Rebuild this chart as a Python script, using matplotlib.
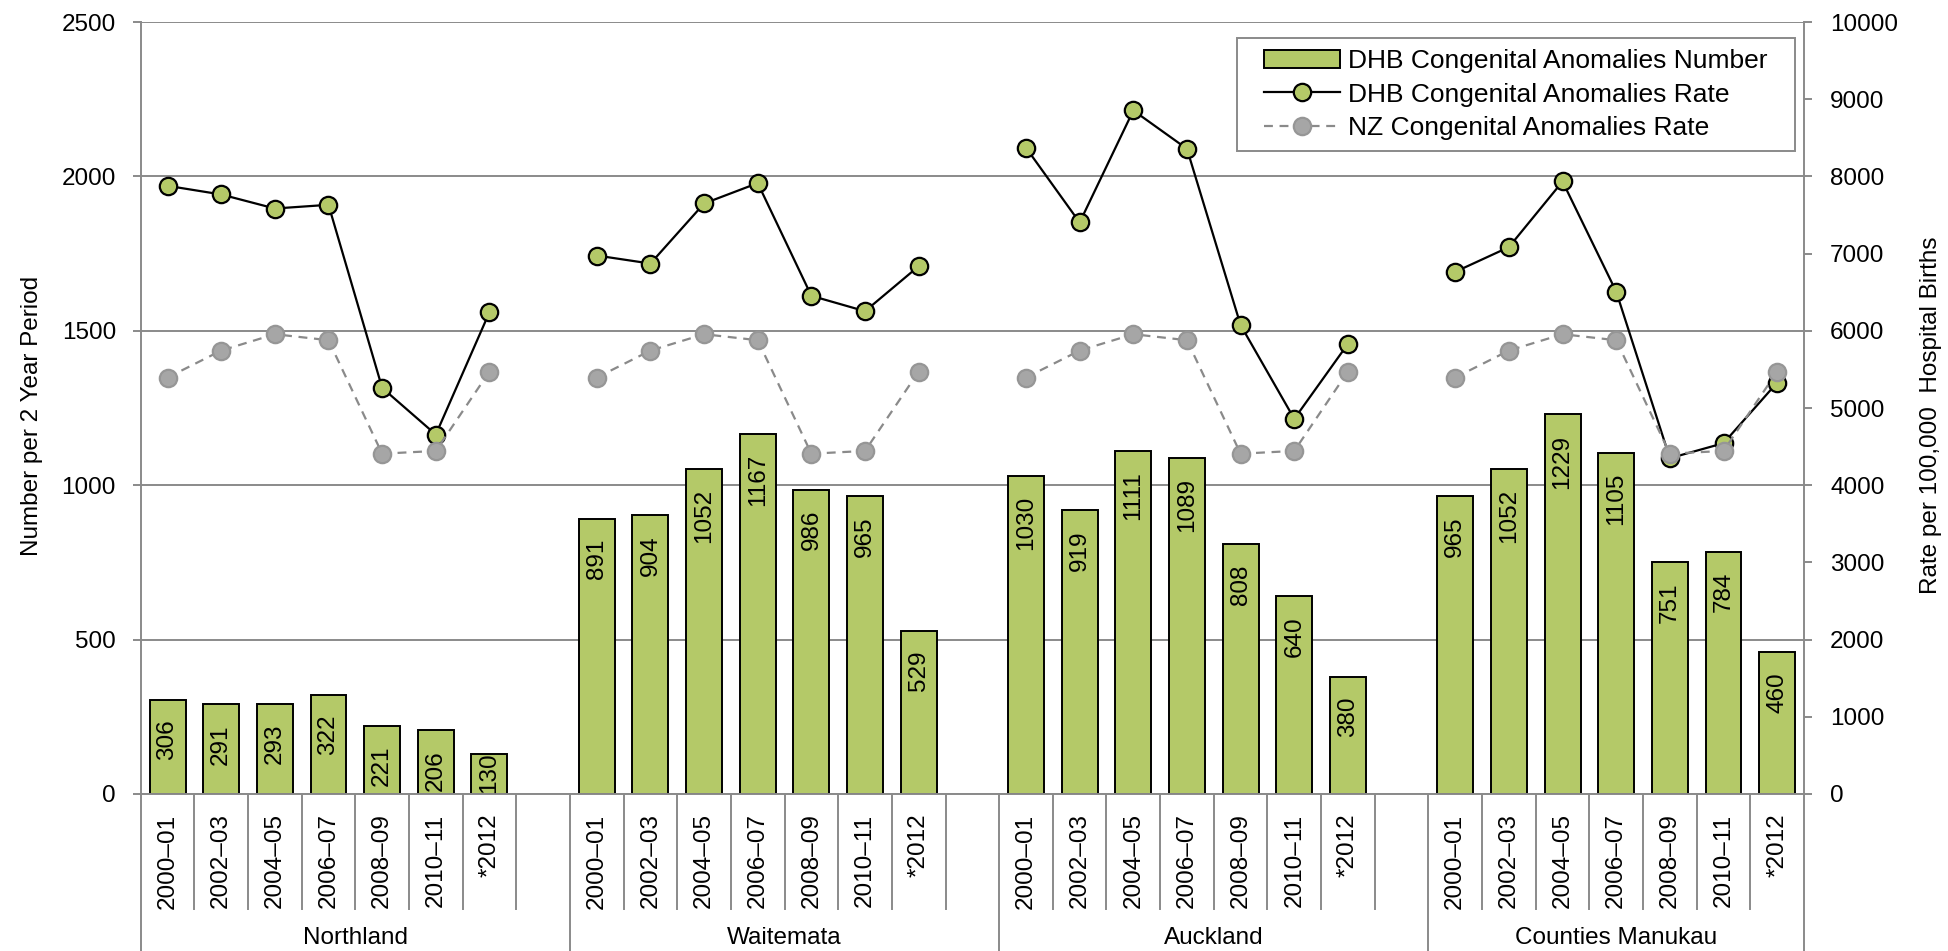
import numpy as np
import matplotlib
matplotlib.use('Agg')
import matplotlib.pyplot as plt
from matplotlib.transforms import blended_transform_factory
from matplotlib.patches import Patch
from matplotlib.lines import Line2D
from matplotlib.path import Path

plt.rcParams['font.family'] = ['Liberation Sans', 'DejaVu Sans']

groups = ['Northland', 'Waitemata', 'Auckland', 'Counties Manukau']
periods = ['2000–01', '2002–03', '2004–05', '2006–07', '2008–09', '2010–11', '*2012']

numbers_northland = [306, 291, 293, 322, 221, 206, 130]
numbers_waitemata = [891, 904, 1052, 1167, 986, 965, 529]
numbers_auckland = [1030, 919, 1111, 1089, 808, 640, 380]
numbers_counties = [965, 1052, 1229, 1105, 751, 784, 460]

rate_northland = [7878, 7766, 7584, 7632, 5261, 4656, 6241]
rate_waitemata = [6975, 6871, 7649, 7913, 6453, 6254, 6837]
rate_auckland = [8371, 7403, 8854, 8357, 6073, 4859, 5831]
rate_counties = [6764, 7084, 7934, 6508, 4350, 4544, 5329]

nz_rate = [5394, 5744, 5956, 5878, 4408, 4444, 5472]

numbers_all = [numbers_northland, numbers_waitemata, numbers_auckland, numbers_counties]
rates_all = [rate_northland, rate_waitemata, rate_auckland, rate_counties]

GREEN = '#B4C968'
GRAY = '#8A8A8A'
FS = 17.5

# Build category sequence with an empty slot between groups
cat_labels, num, dhb, nz, group_of = [], [], [], [], []
for gi, g in enumerate(groups):
    cat_labels += periods
    num += numbers_all[gi]
    dhb += rates_all[gi]
    nz += nz_rate
    group_of += [gi] * len(periods)
    if gi < len(groups) - 1:
        cat_labels.append('')
        num.append(np.nan)
        dhb.append(np.nan)
        nz.append(np.nan)
        group_of.append(gi)
num = np.array(num, dtype=float)
dhb = np.array(dhb, dtype=float)
nz = np.array(nz, dtype=float)
x = np.arange(len(cat_labels))
n = len(cat_labels)

fig = plt.figure(figsize=(19.48, 9.51), dpi=100)
ax = fig.add_axes([140.7 / 1948, 1 - 794 / 951, (1804 - 140.7) / 1948, (794 - 22) / 951])

valid = ~np.isnan(num)
ax.bar(x[valid], num[valid], width=0.67, color=GREEN, edgecolor='black', linewidth=1.4, zorder=2)
for xi, v in zip(x[valid], num[valid]):
    ax.text(xi, max(v - 65, 135), f'{int(v)}', rotation=90, ha='center', va='top',
            fontsize=FS, zorder=4)

ax.set_xlim(-0.5, n - 0.5)
ax.set_ylim(0, 2500)
ax.set_yticks(np.arange(0, 2501, 500))
ax.yaxis.grid(True, color=GRAY, linewidth=1.4)
ax.set_axisbelow(True)
ax.tick_params(axis='y', direction='out', length=5.8, width=1.4, color=GRAY,
               labelsize=FS, pad=12)
ax.set_xticks(x[valid])
ax.set_xticklabels([cat_labels[i] for i in x[valid]], rotation=90, fontsize=FS, va='top')
ax.tick_params(axis='x', length=0, pad=14)
for s in ['top', 'right']:
    ax.spines[s].set_visible(False)
for s in ['left', 'bottom']:
    ax.spines[s].set_color(GRAY)
    ax.spines[s].set_linewidth(1.4)
ax.set_ylabel('Number per 2 Year Period', fontsize=FS)
ax.yaxis.set_label_coords(-0.059, 0.49)

ax2 = ax.twinx()
ax2.set_ylim(0, 10000)
ax2.set_yticks(np.arange(0, 10001, 1000))
ax2.plot(x, dhb, color='black', linewidth=1.6, marker='o', markersize=12.5,
         markerfacecolor=GREEN, markeredgecolor='black', markeredgewidth=1.6, zorder=3)
ax2.plot(x, nz, color=GRAY, linewidth=1.6, linestyle=(0, (4, 3)), marker='o', markersize=12.5,
         markerfacecolor='#A6A6A6', markeredgecolor='#969696', markeredgewidth=1.6, zorder=4)
for s in ['top', 'left', 'bottom']:
    ax2.spines[s].set_visible(False)
ax2.spines['right'].set_color(GRAY)
ax2.spines['right'].set_linewidth(1.4)
ax2.tick_params(axis='y', direction='out', length=5.8, width=1.4, color=GRAY,
                labelsize=FS, pad=13)
ax2.set_ylabel('Rate per 100,000  Hospital Births', fontsize=FS)
ax2.yaxis.set_label_coords(1.0697, 0.49)

# Category separators
tr = blended_transform_factory(ax.transData, ax.transAxes)
short_y = (794 - 909) / 772
long_y = (794 - 951) / 772
for b in np.arange(-0.5, n, 1.0):
    left_i = int(b - 0.5) if b > 0 else -1
    right_i = int(b + 0.5) if b + 0.5 < n else n
    is_group = (b == -0.5) or (b == n - 0.5) or (
        0 <= left_i < n and 0 <= right_i < n and group_of[left_i] != group_of[right_i])
    ax.plot([b, b], [0, long_y if is_group else short_y], transform=tr, color=GRAY,
            linewidth=1.4, clip_on=False, zorder=1)

# Group labels
for gi, g in enumerate(groups):
    idx = [i for i in range(n) if group_of[i] == gi]
    center = (idx[0] - 0.5 + idx[-1] + 0.5) / 2
    ax.text(center, (794 - 938) / 772, g, transform=tr, ha='center', va='center', fontsize=FS)

handles = [
    Patch(facecolor=GREEN, edgecolor='black', linewidth=1.4),
    Line2D([], [], color='black', linewidth=1.6, marker='o', markersize=12.5,
           markerfacecolor=GREEN, markeredgecolor='black', markeredgewidth=1.6),
    Line2D([], [], color=GRAY, linewidth=1.6, linestyle=(0, (4, 3)), marker='o', markersize=12.5,
           markerfacecolor='#A6A6A6', markeredgecolor='#969696', markeredgewidth=1.6),
]
labels = ['DHB Congenital Anomalies Number', 'DHB Congenital Anomalies Rate',
          'NZ Congenital Anomalies Rate']

PADX = 16  # extra horizontal frame padding in pixels


def wide_box(x0, y0, width, height, mutation_size):
    return Path([(x0 - PADX, y0), (x0 + width + PADX, y0), (x0 + width + PADX, y0 + height),
                 (x0 - PADX, y0 + height), (x0 - PADX, y0)], closed=True)


leg = ax2.legend(handles, labels, loc='upper right',
                 bbox_to_anchor=((1795 - PADX) / 1948, 1 - 38 / 951),
                 bbox_transform=fig.transFigure, fontsize=19, frameon=True, fancybox=False,
                 edgecolor=GRAY, framealpha=1, handlelength=2.9, handletextpad=0.3,
                 labelspacing=0.36, borderpad=0.42, borderaxespad=0)
leg.get_frame().set_boxstyle(wide_box)
leg.get_frame().set_linewidth(1.4)

fig.savefig('out.png', dpi=100)
